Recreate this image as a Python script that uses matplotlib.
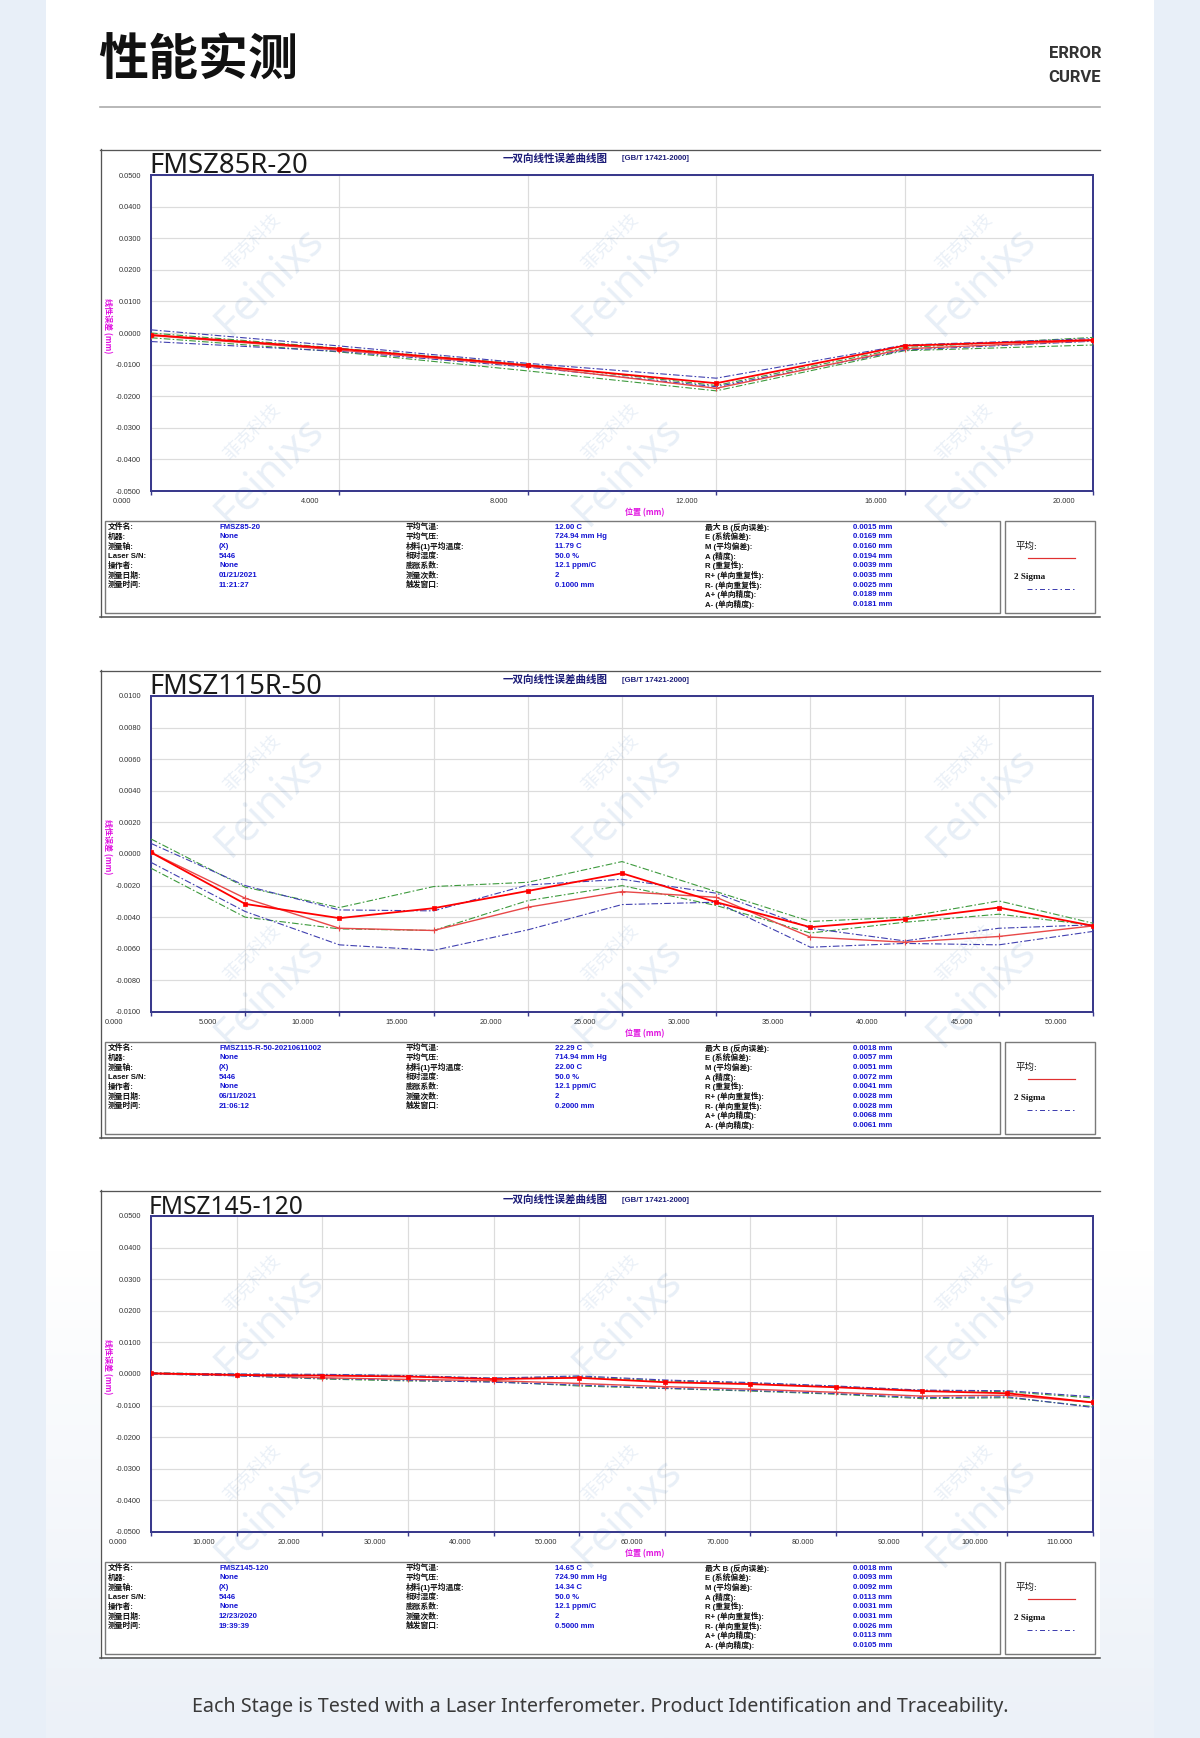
import numpy as np
import matplotlib
matplotlib.use("Agg")
import matplotlib.pyplot as plt
from matplotlib.transforms import ScaledTranslation, blended_transform_factory
from matplotlib.patches import Rectangle

W, H, DPI = 1200, 1738, 100

# ---------------- data (values in micrometres) ----------------
c1_x = [0, 4, 8, 12, 16, 20]
c1_red_a = [-0.6, -5.0, -10.2, -15.9, -4.0, -2.2]
c1_red_b = [-0.8, -5.4, -10.5, -17.5, -5.0, -2.4]
c1_blue_hi = [1.0, -4.1, -9.6, -14.3, -3.8, -1.8]
c1_blue_lo = [-2.7, -5.8, -10.8, -17.0, -5.4, -2.6]
c1_green_hi = [0.0, -4.8, -10.0, -16.6, -4.6, -1.4]
c1_green_lo = [-1.5, -6.0, -12.0, -18.3, -5.6, -3.8]

c2_x = [0, 5, 10, 15, 20, 25, 30, 35, 40, 45, 50]
c2_red_a = [0.1, -3.16, -4.06, -3.43, -2.34, -1.22, -3.05, -4.63, -4.13, -3.39, -4.55]
c2_red_b = [0.1, -2.8, -4.7, -4.84, -3.37, -2.38, -2.74, -5.26, -5.58, -5.22, -4.55]
c2_blue_hi = [0.67, -2.0, -3.54, -3.6, -1.96, -1.6, -2.48, -4.7, -5.5, -4.7, -4.48]
c2_blue_lo = [-0.53, -3.64, -5.75, -6.1, -4.8, -3.2, -3.05, -5.9, -5.66, -5.75, -4.9]
c2_green_hi = [0.95, -2.1, -3.39, -2.06, -1.79, -0.48, -2.38, -4.27, -4.0, -2.97, -4.38]
c2_green_lo = [-0.9, -4.0, -4.74, -4.84, -2.95, -2.0, -3.26, -5.0, -4.32, -3.81, -4.5]

c3_x = [0, 10, 20, 30, 40, 50, 60, 70, 80, 90, 100, 110]
c3_red_a = [0.2, -0.3, -0.5, -0.8, -1.6, -1.2, -2.6, -3.2, -4.2, -5.4, -6.1, -9.0]
c3_red_b = [0.2, -0.3, -1.2, -1.7, -2.1, -3.0, -4.0, -4.8, -5.8, -7.0, -6.7, -9.0]
c3_blue_hi = [0.3, 0.0, -0.1, -0.5, -1.3, -0.6, -1.9, -2.7, -3.8, -5.1, -5.3, -7.2]
c3_blue_lo = [0.0, -0.6, -1.4, -2.0, -2.6, -3.5, -4.5, -5.2, -6.2, -7.5, -7.2, -10.6]
c3_green_hi = [0.4, -0.1, -0.3, -0.6, -1.4, -0.9, -2.2, -2.9, -4.0, -5.2, -5.6, -7.6]
c3_green_lo = [0.0, -0.5, -1.6, -2.2, -2.4, -3.8, -4.6, -5.4, -6.4, -7.8, -7.5, -10.3]

c1_yticks = [0.05, 0.04, 0.03, 0.02, 0.01, 0.0, -0.01, -0.02, -0.03, -0.04, -0.05]
c2_yticks = [0.01, 0.008, 0.006, 0.004, 0.002, 0.0, -0.002, -0.004, -0.006, -0.008, -0.01]
c3_yticks = c1_yticks

chart_titles = ["FMSZ85R-20", "FMSZ115R-50", "FMSZ145-120"]
subtitle = "一双向线性误差曲线图"
standard = "[GB/T 17421-2000]"

labels_col1 = ["文件名:", "机器:", "测量轴:", "Laser S/N:", "操作者:", "测量日期:", "测量时间:"]
labels_col2 = ["平均气温:", "平均气压:", "材料(1)平均温度:", "相对湿度:", "膨胀系数:", "测量次数:", "触发窗口:"]
labels_col3 = ["最大 B (反向误差):", "E (系统偏差):", "M (平均偏差):", "A (精度):", "R (重复性):",
               "R+ (单向重复性):", "R- (单向重复性):", "A+ (单向精度):", "A- (单向精度):"]

c1_vals1 = ["FMSZ85-20", "None", "(X)", "5446", "None", "01/21/2021", "11:21:27"]
c1_vals2 = ["12.00 C", "724.94 mm Hg", "11.79 C", "50.0 %", "12.1 ppm/C", "2", "0.1000 mm"]
c1_vals3 = ["0.0015 mm", "0.0169 mm", "0.0160 mm", "0.0194 mm", "0.0039 mm", "0.0035 mm", "0.0025 mm", "0.0189 mm", "0.0181 mm"]
c2_vals1 = ["FMSZ115-R-50-20210611002", "None", "(X)", "5446", "None", "06/11/2021", "21:06:12"]
c2_vals2 = ["22.29 C", "714.94 mm Hg", "22.00 C", "50.0 %", "12.1 ppm/C", "2", "0.2000 mm"]
c2_vals3 = ["0.0018 mm", "0.0057 mm", "0.0051 mm", "0.0072 mm", "0.0041 mm", "0.0028 mm", "0.0028 mm", "0.0068 mm", "0.0061 mm"]
c3_vals1 = ["FMSZ145-120", "None", "(X)", "5446", "None", "12/23/2020", "19:39:39"]
c3_vals2 = ["14.65 C", "724.90 mm Hg", "14.34 C", "50.0 %", "12.1 ppm/C", "2", "0.5000 mm"]
c3_vals3 = ["0.0018 mm", "0.0093 mm", "0.0092 mm", "0.0113 mm", "0.0031 mm", "0.0031 mm", "0.0026 mm", "0.0113 mm", "0.0105 mm"]

page_title = "性能实测"
side_title = ["ERROR", "CURVE"]
footer = "Each Stage is Tested with a Laser Interferometer. Product Identification and Traceability."

# ---------------- styling helpers ----------------
CJK = "Noto Sans CJK SC"
NARROW = ["Liberation Sans Narrow", "Liberation Sans", CJK]
SERIF = ["Liberation Serif", CJK]
PT = 72.0 / DPI  # points per pixel
NAVY = "#3a3a8c"
MAGENTA = "#e010e0"
VALBLUE = "#1414d2"

plt.rcParams["font.family"] = ["Noto Sans", CJK, "DejaVu Sans"]

fig = plt.figure(figsize=(W / DPI, H / DPI), dpi=DPI)
fig.patch.set_facecolor("#e8eff8")

page = fig.add_axes([0, 0, 1, 1], zorder=0)
page.set_xlim(0, W)
page.set_ylim(H, 0)
page.axis("off")

# white panel with a faint bluish fade at the bottom
grad = np.linspace(0, 1, 256).reshape(-1, 1)
c_top = np.array([1.0, 1.0, 1.0])
c_bot = np.array([0xec, 0xf1, 0xf8]) / 255.0
img = c_top + (c_bot - c_top) * grad[..., None] * np.ones((1, 1, 3))
page.imshow(img, extent=[46, 1154, H, 1250], aspect="auto", zorder=0)
page.add_patch(Rectangle((46, 0), 1108, 1250, facecolor="white", edgecolor="none", zorder=0))

# header
page.text(98, 61, page_title, fontsize=36, fontweight="heavy", family=CJK,
          ha="left", va="center", color="#111111", zorder=2)
page.text(1101, 53, side_title[0], fontsize=12, fontweight="bold", family="Roboto",
          ha="right", va="center", color="#333333", zorder=2)
page.text(1101, 77, side_title[1], fontsize=12, fontweight="bold", family="Roboto",
          ha="right", va="center", color="#333333", zorder=2)
page.plot([100, 1100], [107, 107], color="#a8a8a8", lw=1.6 * PT, zorder=2)

ft = page.text(600, 1707, footer, fontsize=14, family="Noto Sans", ha="center", va="center",
               color="#3a3a3a", zorder=2)

charts = [
    dict(off=0, x=c1_x, xmax=20, ylim=0.05, yticks=c1_yticks, shift=29,
         series=(c1_red_a, c1_red_b, c1_blue_hi, c1_blue_lo, c1_green_hi, c1_green_lo),
         vals=(c1_vals1, c1_vals2, c1_vals3)),
    dict(off=521, x=c2_x, xmax=50, ylim=0.01, yticks=c2_yticks, shift=37,
         series=(c2_red_a, c2_red_b, c2_blue_hi, c2_blue_lo, c2_green_hi, c2_green_lo),
         vals=(c2_vals1, c2_vals2, c2_vals3)),
    dict(off=1041, x=c3_x, xmax=110, ylim=0.05, yticks=c3_yticks, shift=33,
         series=(c3_red_a, c3_red_b, c3_blue_hi, c3_blue_lo, c3_green_hi, c3_green_lo),
         vals=(c3_vals1, c3_vals2, c3_vals3)),
]


def fig_rect(l, t, r, b):
    return [l / W, 1 - b / H, (r - l) / W, (b - t) / H]


title_texts = []
DASHDOT = (0, (6, 2, 1.5, 2))

for k, ch in enumerate(charts):
    off = ch["off"]
    # chart "screenshot" frame
    page.add_patch(Rectangle((100, 149 + off), 1000, 468, facecolor="white", edgecolor="none", zorder=1))
    page.plot([100, 1100], [149.5 + off, 149.5 + off], color="#555555", lw=1.3 * PT, zorder=2)
    page.plot([100.5, 100.5], [149 + off, 617 + off], color="#555555", lw=1.3 * PT, zorder=2)
    page.plot([100, 1100], [616.5 + off, 616.5 + off], color="#555555", lw=1.6 * PT, zorder=2)

    t = page.text(149, 173 + off, chart_titles[k], fontsize=20, fontweight="light",
                  family="Noto Sans", ha="left", va="baseline", color="#1a1a1a", zorder=3)
    title_texts.append((t, [159, 173, 155][k]))
    page.text(503, 159 + off, subtitle, fontsize=7.6, fontweight="bold", family=CJK,
              ha="left", va="center", color="#1c1c78", zorder=3)
    page.text(622, 159 + off, standard, fontsize=5.6, fontweight="bold", family="Liberation Sans",
              ha="left", va="center", color="#1c1c78", zorder=3)

    page.text(107, 326 + off, "线性误差 (mm)", fontsize=5.8, family=CJK, fontweight="bold",
              rotation=270, ha="center", va="center", color=MAGENTA, zorder=3)
    page.text(645, 513 + off, "位置 (mm)", fontsize=5.8, family=CJK, fontweight="bold",
              ha="center", va="center", color=MAGENTA, zorder=3)

    # plot area
    ax = fig.add_axes(fig_rect(151, 175 + off, 1093, 491 + off), zorder=2)
    ax.set_facecolor("white")
    ax.set_xlim(0, ch["xmax"])
    ax.set_ylim(-ch["ylim"], ch["ylim"])
    ax.set_yticks(ch["yticks"])
    ax.set_yticklabels(["%.4f" % v for v in ch["yticks"]], fontsize=5.3, family=NARROW, color="#333333")
    ax.set_xticks(ch["x"])
    ax.set_xticklabels([])
    ax.tick_params(axis="y", length=0, pad=10 * PT)
    ax.tick_params(axis="x", length=3, width=1, color=NAVY, direction="out")
    ax.grid(True, color="#dcdcdc", lw=1.0 * PT * 1.2)
    ax.set_axisbelow(True)
    for s in ax.spines.values():
        s.set_color(NAVY)
        s.set_linewidth(2.0 * PT)

    tr = blended_transform_factory(ax.transData, ax.transAxes) + \
        ScaledTranslation(-ch["shift"] / DPI, -10 / DPI, fig.dpi_scale_trans)
    for xv in ch["x"]:
        ax.text(xv, 0, "%.3f" % xv, transform=tr, fontsize=5.3, family=NARROW,
                ha="center", va="center", color="#333333", clip_on=False)

    red_a, red_b, blue_hi, blue_lo, green_hi, green_lo = [np.array(s) / 1000.0 for s in ch["series"]]
    xs = ch["x"]
    ax.plot(xs, green_hi, color="#3d9a3d", lw=0.8, ls=DASHDOT, zorder=3)
    ax.plot(xs, green_lo, color="#3d9a3d", lw=0.8, ls=DASHDOT, zorder=3)
    ax.plot(xs, blue_hi, color="#4040b0", lw=0.8, ls=DASHDOT, zorder=3)
    ax.plot(xs, blue_lo, color="#4040b0", lw=0.8, ls=DASHDOT, zorder=3)
    ax.plot(xs, red_b, color="#e84848", lw=1.0, marker="+", ms=4, mew=0.8, zorder=4)
    ax.plot(xs, red_a, color="#ff0000", lw=1.3, marker="s", ms=2.2, mew=0.5, zorder=5)

    # information table
    page.add_patch(Rectangle((105, 521 + off), 895, 92, facecolor="white", edgecolor="#7a7a7a",
                             lw=1.4 * PT, zorder=2))
    page.add_patch(Rectangle((1005, 521 + off), 90, 92, facecolor="white", edgecolor="#7a7a7a",
                             lw=1.4 * PT, zorder=2))
    v1, v2, v3 = ch["vals"]
    for i in range(7):
        y = 527.3 + 9.63 * i + off
        page.text(107.5, y, labels_col1[i], fontsize=5.6, fontweight="bold", family=NARROW,
                  ha="left", va="center", color="#111111", zorder=3)
        page.text(219, y, v1[i], fontsize=5.6, fontweight="bold", family=NARROW,
                  ha="left", va="center", color=VALBLUE, zorder=3)
        page.text(406, y, labels_col2[i], fontsize=5.6, fontweight="bold", family=NARROW,
                  ha="left", va="center", color="#111111", zorder=3)
        page.text(555, y, v2[i], fontsize=5.6, fontweight="bold", family=NARROW,
                  ha="left", va="center", color=VALBLUE, zorder=3)
    for i in range(9):
        y = 527.3 + 9.63 * i + off
        page.text(705, y, labels_col3[i], fontsize=5.6, fontweight="bold", family=NARROW,
                  ha="left", va="center", color="#111111", zorder=3)
        page.text(853, y, v3[i], fontsize=5.6, fontweight="bold", family=NARROW,
                  ha="left", va="center", color=VALBLUE, zorder=3)
    page.text(1015, 546 + off, "平均:", fontsize=6.8, family=SERIF, ha="left", va="center",
              color="#111111", zorder=3)
    page.plot([1028, 1075], [558 + off, 558 + off], color="#e03030", lw=1.2 * PT, zorder=3)
    page.text(1014, 577 + off, "2 Sigma", fontsize=6.6, family=SERIF, fontweight="bold",
              ha="left", va="center", color="#111111", zorder=3)
    page.plot([1027, 1075], [589 + off, 589 + off], color="#4040b0", lw=1.0 * PT,
              ls=(0, (5, 3, 1.5, 3)), zorder=3)

# watermark overlay
over = fig.add_axes([0, 0, 1, 1], zorder=5)
over.set_xlim(0, W)
over.set_ylim(H, 0)
over.axis("off")
over.patch.set_alpha(0)
for off in (0, 521, 1041):
    for cx in (270, 628, 982):
        for cy in (282, 472):
            over.text(cx, cy + off, "Feinixs", fontsize=30, fontweight="bold", family="Noto Sans",
                      rotation=45, ha="center", va="center", color="#2f6db5", alpha=0.11)
            over.text(cx - 18, cy - 40 + off, "菲克科技", fontsize=13, family=CJK,
                      rotation=45, ha="center", va="center", color="#2f6db5", alpha=0.10)

# fit widths of a few texts to the reference layout
renderer = fig.canvas.get_renderer()
for t, target in title_texts + [(ft, 817)]:
    bb = t.get_window_extent(renderer)
    t.set_fontsize(t.get_fontsize() * target / bb.width)

fig.savefig("out.png", dpi=DPI, facecolor=fig.get_facecolor())
